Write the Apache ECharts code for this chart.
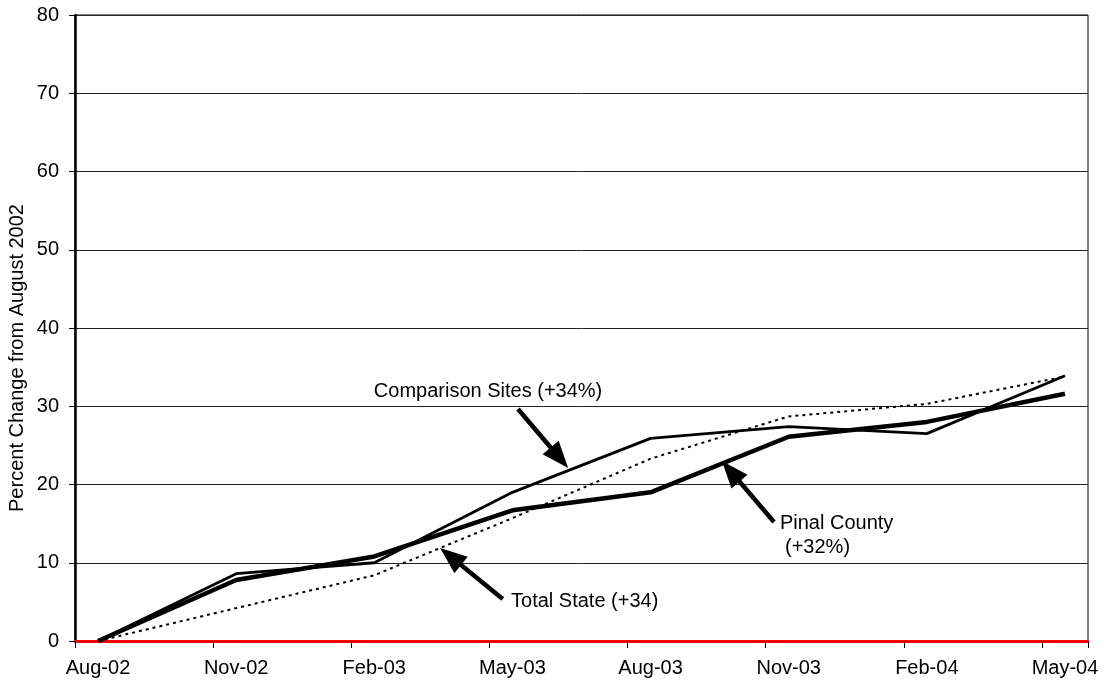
<!DOCTYPE html>
<html>
<head>
<meta charset="utf-8">
<script src="https://cdn.jsdelivr.net/npm/echarts@6/dist/echarts.min.js"></script>
<style>
  html, body { margin: 0; padding: 0; background: #fff; }
  #chart { width: 1104px; height: 683px; }
</style>
</head>
<body>
<div id="chart"></div>
<script>
const FONT = '"Liberation Sans", Arial, sans-serif'

// months on the axis, labels every third one
const months = ['Aug-02', 'Sep-02', 'Oct-02', 'Nov-02', 'Dec-02', 'Jan-03', 'Feb-03', 'Mar-03',
    'Apr-03', 'May-03', 'Jun-03', 'Jul-03', 'Aug-03', 'Sep-03', 'Oct-03', 'Nov-03', 'Dec-03',
    'Jan-04', 'Feb-04', 'Mar-04', 'Apr-04', 'May-04']

// quarterly readings
const quarters = ['Aug-02', 'Nov-02', 'Feb-03', 'May-03', 'Aug-03', 'Nov-03', 'Feb-04', 'May-04']
const comparisonSites = [0, 8.6, 10.0, 19.0, 25.9, 27.4, 26.5, 33.9]
const pinalCounty = [0, 7.8, 10.8, 16.7, 19.0, 26.1, 28.0, 31.6]
const totalState = [0, 4.2, 8.4, 15.7, 23.3, 28.7, 30.3, 33.8]

// y axis ticks
const yTicks = [0, 10, 20, 30, 40, 50, 60, 70, 80]

// annotation texts and arrows, in (month index, percent) units
const notes = [
    { text: 'Comparison Sites (+34%)', at: [5.99, 31.95] },
    { text: 'Pinal County', at: [14.81, 15.08] },
    { text: '(+32%)', at: [14.92, 12.0] },
    { text: 'Total State (+34)', at: [8.97, 5.11] }
]
const arrows = [
    { from: [9.12, 29.65], to: [10.21, 22.1] },
    { from: [14.68, 15.21], to: [13.55, 23.0] },
    { from: [8.79, 5.37], to: [7.43, 11.89] }
]

const pairs = (vals) => quarters.map((q, i) => [q, vals[i]])

let myChart = echarts.init(document.getElementById('chart'))

let option = {
    animation: false,
    grid: {
        left: 75,
        right: 16,
        top: 15,
        bottom: 42,
        show: true,
        borderColor: '#000',
        borderWidth: 1
    },
    xAxis: [{
        type: 'category',
        data: months,
        boundaryGap: true,
        axisLine: { onZero: false, lineStyle: { color: '#ff0000', width: 3 } },
        axisTick: { show: true, interval: 2, length: 7, lineStyle: { color: '#000', width: 1 } },
        axisLabel: { interval: 2, margin: 17, color: '#000', fontSize: 20, fontFamily: FONT },
        splitLine: { show: false }
    }, {
        // hidden helper axis to place the annotations
        type: 'value',
        min: -0.5,
        max: 21.5,
        show: false
    }],
    yAxis: {
        type: 'value',
        min: yTicks[0],
        max: yTicks[yTicks.length - 1],
        interval: 10,
        axisLine: { show: true, onZero: false, lineStyle: { color: '#000', width: 2.5 } },
        axisTick: { show: true, length: 6, lineStyle: { color: '#000' } },
        axisLabel: { margin: 16, color: '#000', fontSize: 20, fontFamily: FONT },
        splitLine: { lineStyle: { color: '#222', width: 1 } }
    },
    series: [
        {
            name: 'Total State',
            type: 'line',
            data: pairs(totalState),
            symbol: 'none',
            lineStyle: { color: '#000', width: 2, type: [3, 4] },
            z: 2
        },
        {
            name: 'Comparison Sites',
            type: 'line',
            data: pairs(comparisonSites),
            symbol: 'none',
            lineStyle: { color: '#000', width: 2.8 },
            z: 3
        },
        {
            name: 'Pinal County',
            type: 'line',
            data: pairs(pinalCounty),
            symbol: 'none',
            lineStyle: { color: '#000', width: 4.5 },
            z: 4
        }
    ]
}

myChart.setOption(option)

// build annotation graphics from the axis scales
const toPx = (p) => myChart.convertToPixel({ xAxisIndex: 1, yAxisIndex: 0 }, p)
let graphics = []

notes.forEach(n => {
    let p = toPx(n.at)
    graphics.push({
        type: 'text',
        x: p[0],
        y: p[1],
        z: 10,
        style: { text: n.text, font: '20px ' + FONT, fill: '#000', align: 'left', verticalAlign: 'middle' }
    })
})

arrows.forEach(a => {
    let s = toPx(a.from)
    let e = toPx(a.to)
    let dx = e[0] - s[0], dy = e[1] - s[1]
    let len = Math.sqrt(dx * dx + dy * dy)
    let ux = dx / len, uy = dy / len
    let headLen = 27, headHalf = 10.5
    let bx = e[0] - ux * headLen, by = e[1] - uy * headLen
    graphics.push({
        type: 'line',
        z: 10,
        shape: { x1: s[0], y1: s[1], x2: bx + ux * 2, y2: by + uy * 2 },
        style: { stroke: '#000', lineWidth: 4.5 }
    })
    graphics.push({
        type: 'polygon',
        z: 10,
        shape: { points: [[e[0], e[1]], [bx - uy * headHalf, by + ux * headHalf], [bx + uy * headHalf, by - ux * headHalf]] },
        style: { fill: '#000' }
    })
})

// y axis title
graphics.push({
    type: 'text',
    x: 17,
    y: 358,
    rotation: Math.PI / 2,
    z: 10,
    style: { text: 'Percent Change from August 2002', font: '20px ' + FONT, fill: '#000', align: 'center', verticalAlign: 'middle' }
})

myChart.setOption({ graphic: graphics })
</script>
</body>
</html>
